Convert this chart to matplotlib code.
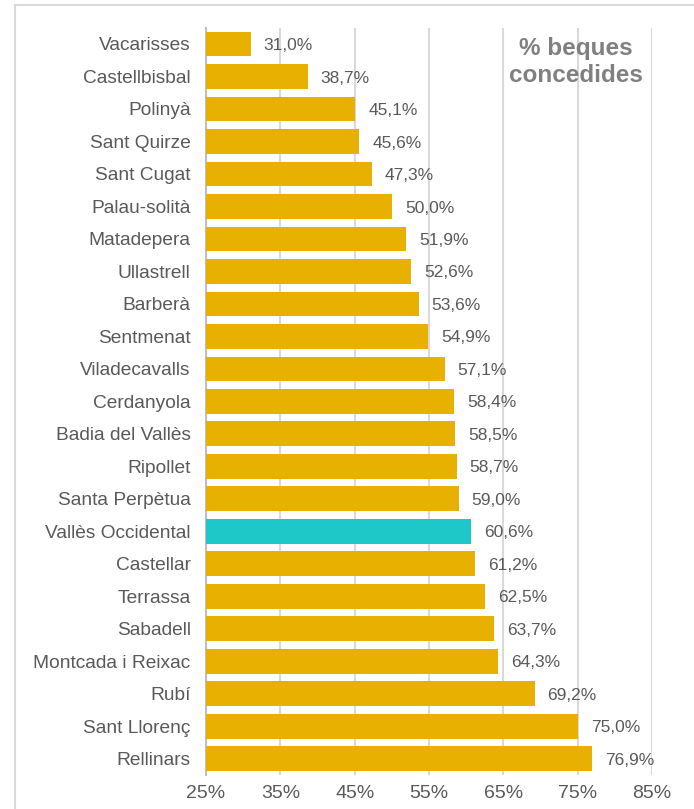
import matplotlib.pyplot as plt
import matplotlib.patches as mpatches
import numpy as np

plt.rcParams['font.family'] = ['Liberation Sans', 'DejaVu Sans']

# municipis i percentatge de beques concedides
municipis = ['Vacarisses', 'Castellbisbal', 'Polinyà', 'Sant Quirze', 'Sant Cugat',
             'Palau-solità', 'Matadepera', 'Ullastrell', 'Barberà', 'Sentmenat',
             'Viladecavalls', 'Cerdanyola', 'Badia del Vallès', 'Ripollet',
             'Santa Perpètua', 'Vallès Occidental', 'Castellar', 'Terrassa',
             'Sabadell', 'Montcada i Reixac', 'Rubí', 'Sant Llorenç', 'Rellinars']
valors = [31.0, 38.7, 45.1, 45.6, 47.3, 50.0, 51.9, 52.6, 53.6, 54.9, 57.1, 58.4,
          58.5, 58.7, 59.0, 60.6, 61.2, 62.5, 63.7, 64.3, 69.2, 75.0, 76.9]
ticks = [25, 35, 45, 55, 65, 75, 85]

groc = '#E8B000'
turquesa = '#1FC8C8'
gris = '#595959'

fig = plt.figure(figsize=(6.94, 8.09), dpi=100)
ax = fig.add_axes([0.2968, 0.042, 0.6427, 0.9238])

colors = [turquesa if m == 'Vallès Occidental' else groc for m in municipis]
y = np.arange(len(municipis))
ax.barh(y, np.array(valors) - 25, left=25, height=0.76, color=colors, zorder=3)

for yi, v in zip(y, valors):
    ax.text(v + 1.75, yi + 0.05, f'{v:.1f}%'.replace('.', ','), va='center', ha='left',
            fontsize=12.5, color=gris, zorder=4)

ax.set_yticks(y)
ax.set_yticklabels(municipis, fontsize=13.8, color=gris)
ax.set_ylim(len(municipis) - 0.5, -0.5)
ax.set_xlim(25, 85)
ax.set_xticks(ticks)
ax.set_xticklabels([f'{t}%' for t in ticks], fontsize=14, color=gris)
ax.tick_params(length=0, axis='y', pad=11)
ax.tick_params(length=0, axis='x', pad=7)

ax.grid(axis='x', color='#D9D9D9', linewidth=1.5, zorder=0)
for s in ['top', 'right', 'bottom']:
    ax.spines[s].set_visible(False)
ax.spines['left'].set_color('#BFBFBF')
ax.spines['left'].set_linewidth(1.5)

ax.text(0.83, 0.987, '% beques\nconcedides', transform=ax.transAxes, ha='center', va='top',
        fontsize=17.5, fontweight='bold', color='#808080', linespacing=1.2, zorder=5)

# marc exterior
fig.patches.append(mpatches.Rectangle((15 / 694, -0.05), 1.0, 1 - 5 / 809 + 0.05,
                                      transform=fig.transFigure, fill=False,
                                      edgecolor='#D9D9D9', linewidth=1.5))

fig.savefig('out.png', dpi=100)
